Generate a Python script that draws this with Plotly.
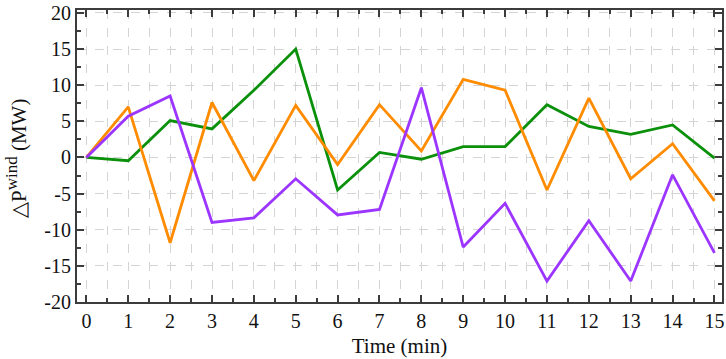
import plotly.graph_objects as go

time_min = list(range(16))
green_vals = [0, -0.45, 5.1, 3.95, 9.3, 15.0, -4.5, 0.7, -0.25, 1.5, 1.5, 7.3, 4.3, 3.2, 4.5, -0.1]
orange_vals = [0, 7.0, -11.8, 7.6, -3.2, 7.2, -1.0, 7.3, 0.9, 10.8, 9.3, -4.5, 8.2, -2.95, 1.9, -6.0]
purple_vals = [0, 5.7, 8.5, -9.0, -8.35, -2.95, -7.95, -7.2, 9.65, -12.4, -6.35, -17.1, -8.75, -17.1, -2.4, -13.2]

x_ticks = list(range(16))
y_ticks = [-20, -15, -10, -5, 0, 5, 10, 15, 20]

SERIF = "Liberation Serif"

fig = go.Figure()
for vals, col in [(green_vals, "#0a900a"), (orange_vals, "#ff8c00"), (purple_vals, "#9b35ff")]:
    fig.add_trace(go.Scatter(x=time_min, y=vals, mode="lines",
                             line=dict(color=col, width=2.8), showlegend=False))

axis_common = dict(
    showline=True, linecolor="#3c3c3c", linewidth=2, mirror="ticks",
    ticks="inside", ticklen=7, tickwidth=1.5, tickcolor="#3c3c3c",
    gridcolor="#d4d4d4", griddash="dash", gridwidth=1,
    zeroline=False, ticklabeloverflow="allow",
    tickfont=dict(family=SERIF, size=20, color="#111111"),
)

fig.update_xaxes(
    range=[-0.224, 15.18], tickmode="array", tickvals=x_ticks,
    ticktext=[str(v) for v in x_ticks],
    minor=dict(dtick=0.5, tick0=0, ticks="inside", ticklen=4, tickcolor="#3c3c3c",
               showgrid=True, gridcolor="#d4d4d4", griddash="dash", gridwidth=1),
    title=dict(text="Time (min)", font=dict(family=SERIF, size=21, color="#111111"), standoff=7),
    **axis_common,
)
fig.update_yaxes(
    range=[-20, 20.4], tickmode="array", tickvals=y_ticks,
    ticktext=[str(v) for v in y_ticks],
    minor=dict(dtick=2.5, tick0=0, ticks="inside", ticklen=4, tickcolor="#3c3c3c", showgrid=False),
    **axis_common,
)

fig.add_annotation(
    text="△P<sup><span style='font-size:17px'>wind</span></sup> (MW)",
    xref="paper", yref="paper", x=0, y=0.5, xanchor="center", yanchor="middle",
    xshift=-61, yshift=-3, textangle=-90, showarrow=False,
    font=dict(family=SERIF, size=21, color="#111111"),
)

fig.update_layout(
    width=726, height=359,
    margin=dict(l=77, r=2, t=5, b=57),
    paper_bgcolor="white", plot_bgcolor="white",
    font=dict(family=SERIF, size=20, color="#111111"),
)

fig.write_html("out.html", config={"displayModeBar": False},
               post_script="document.body.style.margin='0';document.body.style.overflow='hidden';")
